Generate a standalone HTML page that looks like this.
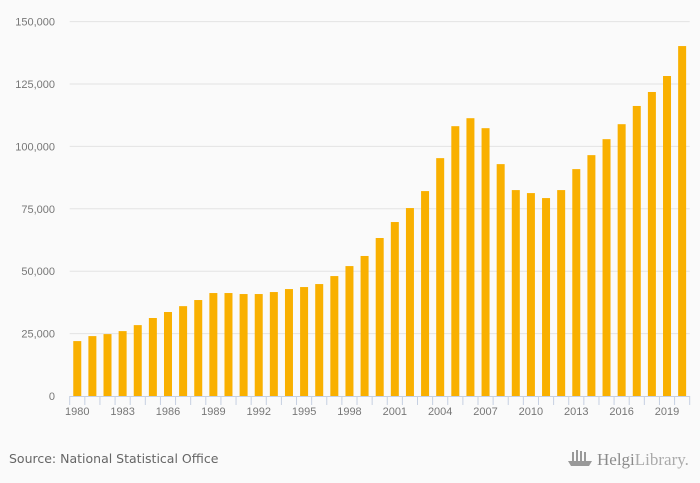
<!DOCTYPE html>
<html><head><meta charset="utf-8"><style>
body{margin:0;background:#fafafa;font-family:"Liberation Sans",sans-serif;}
svg{display:block}
</style></head><body>
<svg id="c" width="700" height="483">
<rect width="700" height="483" fill="#fafafa"/>
<g id="grid"></g><g id="bars"></g><g id="axis"></g>
<text x="9" y="463" font-size="12.5" font-family="DejaVu Sans,sans-serif" fill="#666">Source: National Statistical Office</text>
<g fill="#999">
<rect x="572" y="452" width="2" height="9"/><rect x="576" y="450" width="2" height="11"/><rect x="580" y="451" width="2" height="10"/><rect x="584" y="452" width="2" height="9"/>
<path d="M568 461 L592 461 L589 466 L571 466 Z"/>
<text x="597" y="465" font-size="17" font-family="Liberation Serif,serif" fill="#8a8a8a">Helgi<tspan fill="#aaa">Library.</tspan></text>
</g>
</svg>
<script>
const years=[];for(let y=1980;y<=2020;y++)years.push(y);
const values=[22000,24000,24800,26000,28400,31250,33650,36000,38450,41250,41250,40850,40850,41650,42850,43650,44850,48050,52050,56100,63300,69700,75300,82100,95300,108100,111300,107300,92900,82500,81300,79300,82500,90900,96500,102900,108900,116200,121800,128200,140200];
const yTicks=[0,25000,50000,75000,100000,125000,150000];
const NS="http://www.w3.org/2000/svg";
const x0=69.7,x1=689.7,y0=396,yMax=150000,yTop=21.6;
const band=(x1-x0)/years.length;
const xs=i=>x0+band*i;
const ys=v=>y0-(v/yMax)*(y0-yTop);
function mk(t,a,p){const e=document.createElementNS(NS,t);for(const k in a)e.setAttribute(k,a[k]);p.appendChild(e);return e;}
const grid=document.getElementById('grid'),bars=document.getElementById('bars'),axis=document.getElementById('axis');
yTicks.forEach(v=>{
 if(v>0){const l=mk('line',{x1:x0,x2:x1,y1:ys(v),y2:ys(v),stroke:'#e3e3e3','stroke-width':1},grid);
 
 }
 const t=mk('text',{x:55,y:ys(v)+4,'text-anchor':'end','font-size':11,fill:'#777'},grid);
 t.textContent=v.toLocaleString('en-US');
 
 
});
values.forEach((v,i)=>{
 const r=mk('rect',{x:xs(i)+band/2-4,y:ys(v),width:8,height:y0-ys(v),fill:'#f9b000'},bars);
 
 
});
const al=mk('line',{x1:x0,x2:x1,y1:y0+0.5,y2:y0+0.5,stroke:'#c6d0e2','stroke-width':1},axis);


for(let i=0;i<=years.length;i++){
 const tk=mk('line',{x1:xs(i),x2:xs(i),y1:y0,y2:y0+9,stroke:'#c6d0e2','stroke-width':1},axis);
 
 
}
years.forEach((y,i)=>{
 if((y-1980)%3!==0)return;
 const t=mk('text',{x:xs(i)+band/2,y:415,'text-anchor':'middle','font-size':11,fill:'#777'},axis);
 t.textContent=y;
 
 
});
</script>
</body></html>
